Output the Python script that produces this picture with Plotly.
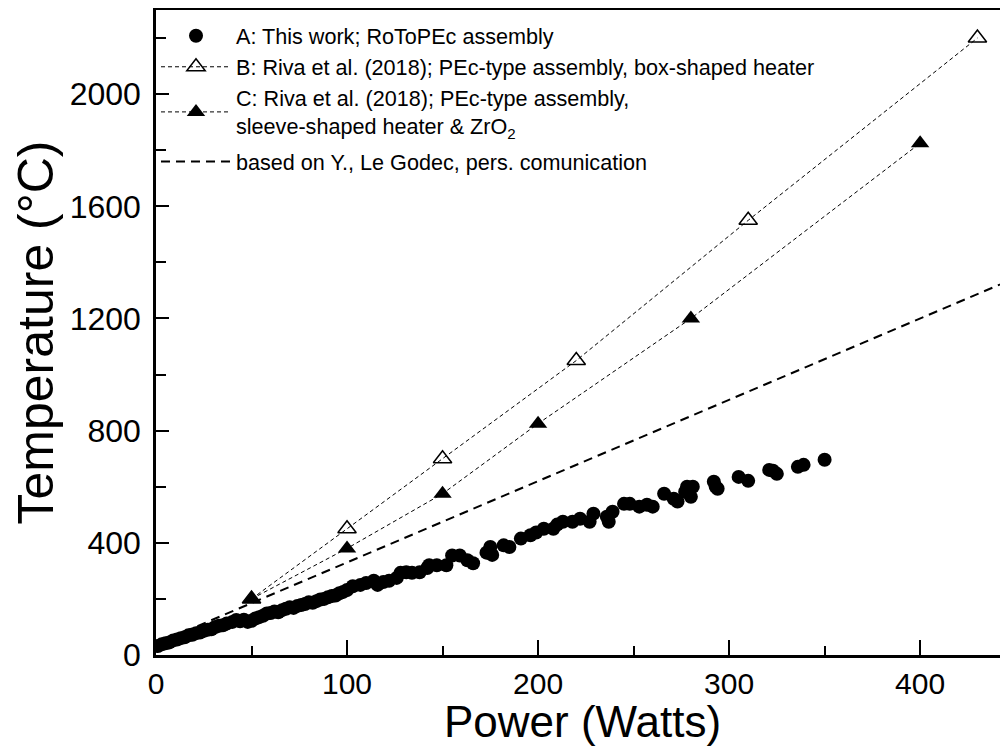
import plotly.graph_objects as go

# Series A: This work (RoToPEc assembly)
a_power = [1, 3, 5, 7, 9, 11, 13, 15, 17, 19, 21, 23, 25, 27, 29, 31, 33, 35, 37,
           40, 42, 44, 46, 48, 50, 52, 54, 56, 58, 60, 62, 64, 66, 68, 70, 72, 74,
           76, 78, 80, 82, 84, 86, 88, 90, 92, 94, 96, 98,
           100, 103, 107, 110, 114, 116, 119, 122, 126, 128, 131, 134, 138, 142,
           143, 147, 152, 155, 159, 163, 166, 173, 175, 176, 182, 185, 191, 196, 199,
           203, 208, 210, 213, 218, 222, 227, 229, 236, 237, 239, 245, 248, 253,
           257, 260, 266, 271, 273, 277, 278, 280, 281, 292, 293, 294, 305, 310,
           321, 323, 325, 336, 339, 350]
a_temp = [32, 38, 42, 45, 52, 55, 60, 63, 70, 72, 78, 80, 86, 90, 92, 100, 104, 106, 112,
          118, 125, 120, 126, 118, 122, 130, 135, 140, 148, 150, 155, 152, 160, 165, 170,
          168, 175, 178, 182, 188, 186, 192, 198, 200, 206, 210, 212, 220, 225,
          232, 245, 250, 257, 265, 250, 260, 265, 275, 293, 295, 293, 295, 310,
          320, 320, 320, 355, 355, 338, 327, 365, 385, 357, 391, 385, 415, 427, 437,
          450, 450, 465, 475, 475, 486, 475, 504, 493, 475, 511, 539, 539, 529,
          536, 529, 575, 557, 547, 582, 600, 564, 600, 618, 600, 593, 635, 621,
          660, 657, 646, 671, 678, 696]

# Series B: Riva et al. (2018), box-shaped heater
b_power = [50, 100, 150, 220, 310, 430]
b_temp = [200, 450, 700, 1050, 1550, 2200]

# Series C: Riva et al. (2018), sleeve-shaped heater & ZrO2
c_power = [50, 100, 150, 200, 280, 400]
c_temp = [200, 380, 575, 825, 1200, 1825]

# Le Godec estimate
d_power = [0, 450]
d_temp = [40, 1345]

x_ticks = [0, 100, 200, 300, 400]
y_ticks = [0, 400, 800, 1200, 1600, 2000]

FONT = "Arial, Liberation Sans, sans-serif"

fig = go.Figure()
fig.add_trace(go.Scatter(
    x=a_power, y=a_temp, mode="markers",
    marker=dict(symbol="circle", size=14, color="black"),
    name="A: This work; RoToPEc assembly"))
fig.add_trace(go.Scatter(
    x=b_power, y=b_temp, mode="lines+markers",
    line=dict(color="black", width=1, dash="4px,3px"),
    marker=dict(symbol="triangle-up-open", size=16, color="black", line=dict(width=1.5)),
    name="B: Riva et al. (2018); PEc-type assembly, box-shaped heater"))
fig.add_trace(go.Scatter(
    x=c_power, y=c_temp, mode="lines+markers",
    line=dict(color="black", width=1, dash="4px,3px"),
    marker=dict(symbol="triangle-up", size=16, color="black"),
    name="C: Riva et al. (2018); PEc-type assembly,<br>sleeve-shaped heater &amp; ZrO<sub>2</sub>"))
fig.add_trace(go.Scatter(
    x=d_power, y=d_temp, mode="lines",
    line=dict(color="black", width=2, dash="9px,6px"),
    legend="legend2",
    name="based on Y., Le Godec, pers. comunication"))

# page has an 8px body margin; figure sized so plot area lands where the reference has it
fig.update_layout(
    width=1000, height=748,
    margin=dict(l=148, r=0, t=2, b=101),
    paper_bgcolor="white", plot_bgcolor="white",
    font=dict(family=FONT, color="black"),
    showlegend=True,
    legend=dict(x=0.0, y=0.992, xanchor="left", yanchor="top",
                bgcolor="rgba(0,0,0,0)", font=dict(size=21.6, family=FONT),
                itemwidth=70, tracegroupgap=0),
    legend2=dict(x=0.0, y=0.797, xanchor="left", yanchor="top",
                 bgcolor="rgba(0,0,0,0)", font=dict(size=21.6, family=FONT),
                 itemwidth=70),
    annotations=[dict(text="Power (Watts)", xref="paper", yref="paper",
                      x=0.5, y=-0.103, xanchor="center", yanchor="middle",
                      showarrow=False, font=dict(size=44, family=FONT, color="black"))],
)
fig.update_xaxes(
    range=[0, 446], tickvals=x_ticks, ticktext=[str(v) for v in x_ticks],
    showgrid=False, zeroline=False, showline=True, linecolor="black", linewidth=2.5,
    mirror=True, ticks="inside", ticklen=15, tickwidth=2, tickcolor="black",
    tickfont=dict(size=30, family=FONT),
    minor=dict(tickvals=[50, 150, 250, 350], ticks="inside", ticklen=9, tickwidth=2, tickcolor="black"),
)
fig.update_yaxes(
    range=[0, 2300], tickvals=y_ticks, ticktext=[str(v) for v in y_ticks],
    showgrid=False, zeroline=False, showline=True, linecolor="black", linewidth=2.5,
    mirror=False, ticks="inside", ticklen=13, tickwidth=2, tickcolor="black",
    tickfont=dict(size=32, family=FONT), ticklabelstandoff=6,
    minor=dict(tickvals=[200, 600, 1000, 1400, 1800, 2200], ticks="inside", ticklen=10, tickwidth=2, tickcolor="black"),
    title=dict(text="Temperature (°C)", font=dict(size=50, family=FONT), standoff=16),
)

fig.write_html("out.html")
